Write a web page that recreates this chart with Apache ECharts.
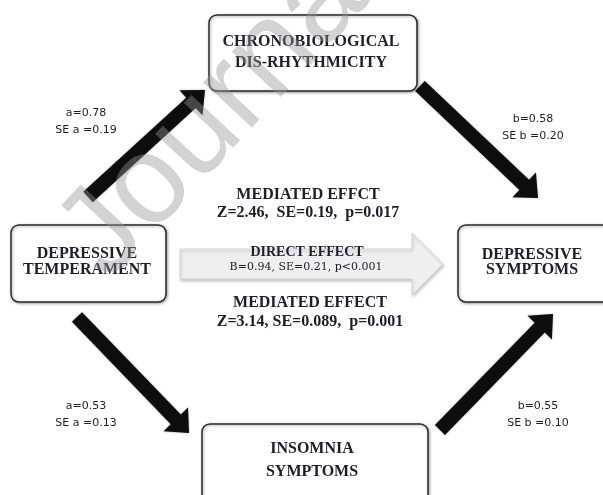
<!DOCTYPE html>
<html>
<head>
    <meta charset="utf-8">
    <script src="https://cdn.jsdelivr.net/npm/echarts@6/dist/echarts.min.js"></script>
    <style>
        html, body { margin: 0; padding: 0; background: #fff; }
    </style>
</head>
<body>
    <div id="main" style="width: 603px;height:495px;"></div>
<script type="text/javascript">
    // --- diagram content ---
    var nodeNames = [
        'CHRONOBIOLOGICAL\nDIS-RHYTHMICITY',
        'DEPRESSIVE\nTEMPERAMENT',
        'DEPRESSIVE\nSYMPTOMS',
        'INSOMNIA\nSYMPTOMS'
    ];
    var pathLabels = [
        'a=0.78\nSE a =0.19',
        'b=0.58\nSE b =0.20',
        'a=0.53\nSE a =0.13',
        'b=0.55\nSE b =0.10'
    ];
    var mediatedTop = ['MEDIATED EFFCT', 'Z=2.46,  SE=0.19,  p=0.017'];
    var directEffect = ['DIRECT EFFECT', 'B=0.94, SE=0.21, p<0.001'];
    var mediatedBottom = ['MEDIATED EFFECT', 'Z=3.14, SE=0.089,  p=0.001'];
    var watermark = 'Journal Pre-proof';

    // --- layout (page units, y down) ---
    // box: x, y, w, h, text cx, text cy, line height
    var boxLayout = [
        [209, 15, 208, 76, 311, 52, 21],
        [11, 225, 155, 77, 87, 262, 16],
        [458, 225, 152, 77, 532, 262, 15],
        [202, 424, 226, 95, 312, 460, 23]
    ];
    // arrow: tail x, tail y, tip x, tip y
    var arrowLayout = [
        [88, 197, 205, 90],
        [420, 86, 538, 198],
        [77, 317, 189, 433],
        [440, 430, 553, 314]
    ];
    var pathLabelPos = [[86, 122], [533, 128], [86, 415], [538, 415]];
    var directArrow = [180, 264, 443, 264];

    var myChart = echarts.init(document.getElementById('main'));

    function arrowPoints(t, h, shaftW, headW, headL) {
        var dx = h[0] - t[0], dy = h[1] - t[1];
        var len = Math.sqrt(dx * dx + dy * dy);
        var ux = dx / len, uy = dy / len, nx = -uy, ny = ux;
        var bx = h[0] - ux * headL, by = h[1] - uy * headL;
        var s = shaftW / 2, w = headW / 2;
        return [
            [t[0] + nx * s, t[1] + ny * s],
            [bx + nx * s, by + ny * s],
            [bx + nx * w, by + ny * w],
            [h[0], h[1]],
            [bx - nx * w, by - ny * w],
            [bx - nx * s, by - ny * s],
            [t[0] - nx * s, t[1] - ny * s]
        ];
    }

    var textItems = [];
    pathLabels.forEach(function (t, i) {
        textItems.push({ value: pathLabelPos[i], text: t, font: '11px "DejaVu Sans"', lh: 17 });
    });
    textItems.push({ value: [308, 195], text: mediatedTop[0], font: 'bold 16px "Liberation Serif"' });
    textItems.push({ value: [308, 213], text: mediatedTop[1], font: 'bold 16px "Liberation Serif"' });
    textItems.push({ value: [307, 252], text: directEffect[0], font: 'bold 14px "Liberation Serif"' });
    textItems.push({ value: [306, 267], text: directEffect[1], font: '11px "DejaVu Serif"' });
    textItems.push({ value: [310, 303], text: mediatedBottom[0], font: 'bold 16px "Liberation Serif"' });
    textItems.push({ value: [310, 322], text: mediatedBottom[1], font: 'bold 16px "Liberation Serif"' });

    var option = {
        backgroundColor: '#fff',
        animation: false,
        grid: { left: 0, right: 0, top: 0, bottom: 0 },
        xAxis: { type: 'value', min: 0, max: 603, show: false },
        yAxis: { type: 'value', min: 0, max: 495, inverse: true, show: false },
        graphic: [{
            type: 'text',
            x: 36,
            y: 216,
            rotation: 47 * Math.PI / 180,
            z: 100,
            silent: true,
            style: {
                text: watermark,
                font: '126px "Liberation Sans"',
                fill: 'rgba(150,150,150,0.42)',
                textAlign: 'left',
                textVerticalAlign: 'alphabetic'
            }
        }],
        series: [{
            // direct effect arrow
            type: 'custom',
            z: 1,
            data: [directArrow],
            renderItem: function (params, api) {
                var t = api.coord([api.value(0), api.value(1)]);
                var h = api.coord([api.value(2), api.value(3)]);
                return {
                    type: 'polygon',
                    shape: { points: arrowPoints(t, h, 30, 62, 31) },
                    style: {
                        fill: '#efefef', stroke: '#d6d6d6', lineWidth: 1,
                        shadowBlur: 3, shadowOffsetX: 1, shadowOffsetY: 2,
                        shadowColor: 'rgba(0,0,0,0.2)'
                    }
                };
            }
        }, {
            // black path arrows
            type: 'custom',
            z: 2,
            data: arrowLayout,
            renderItem: function (params, api) {
                var t = api.coord([api.value(0), api.value(1)]);
                var h = api.coord([api.value(2), api.value(3)]);
                return {
                    type: 'polygon',
                    shape: { points: arrowPoints(t, h, 14, 34, 19) },
                    style: {
                        fill: '#0d0d0d',
                        shadowBlur: 2, shadowColor: 'rgba(0,0,0,0.4)'
                    }
                };
            }
        }, {
            // variable boxes
            type: 'custom',
            z: 3,
            data: boxLayout,
            renderItem: function (params, api) {
                var i = params.dataIndex;
                var b = boxLayout[i];
                var p0 = api.coord([b[0], b[1]]);
                var p1 = api.coord([b[0] + b[2], b[1] + b[3]]);
                var c = api.coord([b[4], b[5]]);
                return {
                    type: 'group',
                    children: [{
                        type: 'rect',
                        shape: { x: p0[0], y: p0[1], width: p1[0] - p0[0], height: p1[1] - p0[1], r: 8 },
                        style: {
                            fill: '#fff', stroke: '#2a2a2a', lineWidth: 1.5,
                            shadowBlur: 3, shadowOffsetX: 1, shadowOffsetY: 1,
                            shadowColor: 'rgba(0,0,0,0.35)'
                        }
                    }, {
                        type: 'text',
                        x: c[0],
                        y: c[1],
                        style: {
                            text: nodeNames[i],
                            font: 'bold 16px "Liberation Serif"',
                            fill: '#1d1d2b',
                            textAlign: 'center',
                            textVerticalAlign: 'middle',
                            lineHeight: b[6]
                        }
                    }]
                };
            }
        }, {
            // coefficients and effect texts
            type: 'custom',
            z: 4,
            data: textItems.map(function (d) { return d.value; }),
            renderItem: function (params, api) {
                var d = textItems[params.dataIndex];
                var p = api.coord([api.value(0), api.value(1)]);
                return {
                    type: 'text',
                    x: p[0],
                    y: p[1],
                    style: {
                        text: d.text,
                        font: d.font,
                        fill: '#1d1d2b',
                        textAlign: 'center',
                        textVerticalAlign: 'middle',
                        lineHeight: d.lh || 16
                    }
                };
            }
        }]
    };

    myChart.setOption(option);
</script>
</body>
</html>
